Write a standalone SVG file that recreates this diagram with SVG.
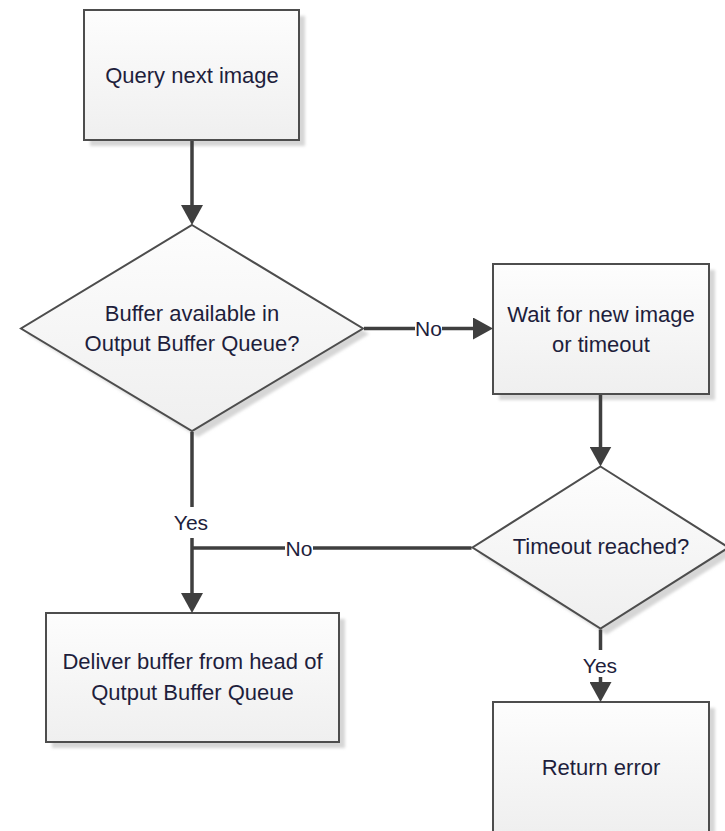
<svg xmlns="http://www.w3.org/2000/svg" width="725" height="831" viewBox="0 0 725 831">
  <style>
    .shape { stroke: #4d4d4d; stroke-width: 2; fill: url(#nodeFill); }
    .shadow { fill: #d6d6d6; filter: url(#soft); }
    .label { font-family: "Liberation Sans", Arial, sans-serif; font-size: 22px; fill: #1e1e3c; text-anchor: middle; }
    .edge-label { font-family: "Liberation Sans", Arial, sans-serif; font-size: 21px; fill: #1e1e3c; text-anchor: middle; }
    .wire { stroke: #3f3f3f; stroke-width: 3.5; fill: none; }
  </style>
  <defs>
    <linearGradient id="nodeFill" x1="0" y1="0" x2="0" y2="1">
      <stop offset="0" stop-color="#fdfdfd"/>
      <stop offset="1" stop-color="#efefef"/>
    </linearGradient>
    <filter id="soft" x="-10%" y="-10%" width="120%" height="120%">
      <feGaussianBlur stdDeviation="1.5"/>
    </filter>
    <marker id="arrow" viewBox="0 0 20 22" refX="12" refY="11" markerWidth="20" markerHeight="22" markerUnits="userSpaceOnUse" orient="auto">
      <path d="M0,0 L20,11 L0,22 z" fill="#3f3f3f"/>
    </marker>
  </defs>

  <rect width="725" height="831" fill="#ffffff"/>

  <!-- Start step -->
  <g id="query-next-image">
    <rect class="shadow" x="90" y="16" width="215" height="130"/>
    <rect class="shape" x="84" y="10" width="215" height="130"/>
    <text class="label" x="192" y="83">Query next image</text>
  </g>

  <!-- First decision -->
  <g id="buffer-available">
    <polygon class="shadow" points="198,231 369,334 198,437 27,334"/>
    <polygon class="shape" points="192,225 363,328.5 192,431 21,328.5"/>
    <text class="label" x="192" y="321">Buffer available in</text>
    <text class="label" x="192" y="351">Output Buffer Queue?</text>
  </g>

  <!-- Waiting step -->
  <g id="wait-for-image">
    <rect class="shadow" x="499" y="270" width="216" height="130"/>
    <rect class="shape" x="493" y="264" width="216" height="130"/>
    <text class="label" x="601" y="322">Wait for new image</text>
    <text class="label" x="601" y="352">or timeout</text>
  </g>

  <!-- Second decision -->
  <g id="timeout-reached">
    <polygon class="shadow" points="606.5,472.5 734.5,553.5 606.5,634.5 478.5,553.5"/>
    <polygon class="shape" points="600.5,466.5 728.5,547.5 600.5,628.5 472.5,547.5"/>
    <text class="label" x="601" y="554">Timeout reached?</text>
  </g>

  <!-- Delivery step -->
  <g id="deliver-buffer">
    <rect class="shadow" x="52" y="619" width="293" height="129"/>
    <rect class="shape" x="46" y="613" width="293" height="129"/>
    <text class="label" x="192.5" y="669">Deliver buffer from head of</text>
    <text class="label" x="192.5" y="700">Qutput Buffer Queue</text>
  </g>

  <!-- Error step -->
  <g id="return-error">
    <rect class="shadow" x="499" y="708" width="216" height="130"/>
    <rect class="shape" x="493" y="702" width="216" height="130"/>
    <text class="label" x="601" y="775">Return error</text>
  </g>

  <!-- Connectors, drawn above the node shadows -->
  <g id="connectors">
    <path class="wire" d="M192,141 V217" marker-end="url(#arrow)"/>

    <path class="wire" d="M364,328.5 H415"/>
    <path class="wire" d="M442,328.5 H485" marker-end="url(#arrow)"/>
    <text class="edge-label" x="428.5" y="336">No</text>

    <path class="wire" d="M600.5,395 V458.5" marker-end="url(#arrow)"/>

    <path class="wire" d="M192,432 V507"/>
    <text class="edge-label" x="191" y="530">Yes</text>
    <path class="wire" d="M192,538 V605" marker-end="url(#arrow)"/>

    <path class="wire" d="M471.5,548 H313"/>
    <text class="edge-label" x="299" y="556">No</text>
    <path class="wire" d="M285,548 H192"/>

    <path class="wire" d="M600.5,629.5 V650"/>
    <text class="edge-label" x="600" y="673">Yes</text>
    <path class="wire" d="M600.5,677 V694" marker-end="url(#arrow)"/>
  </g>
</svg>
